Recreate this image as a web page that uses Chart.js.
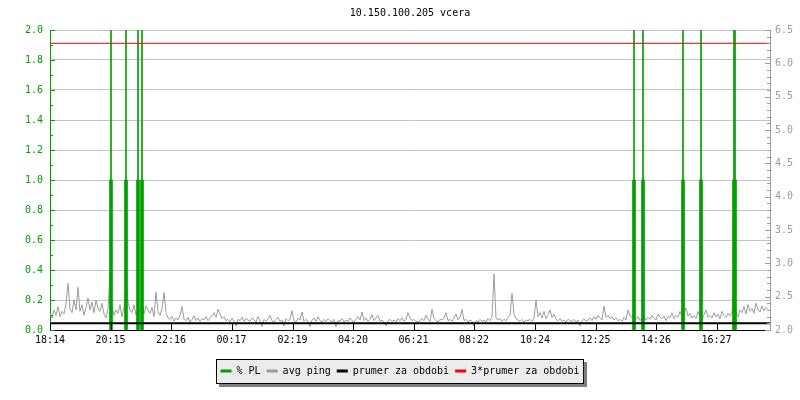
<!DOCTYPE html>
<html>
<head>
<meta charset="utf-8">
<title>10.150.100.205 vcera</title>
<script src="https://cdn.jsdelivr.net/npm/chart.js@4.4.1/dist/chart.umd.min.js"></script>
<style>
  html, body { margin: 0; padding: 0; background: #fff; }
  #graf { display: block; }
</style>
</head>
<body>
<canvas id="graf" width="800" height="400"></canvas>
<script>
// === DATA ==================================================================
// minuty od 18:14 (den = 1440 min)
const tickMinuty  = [0, 121, 242, 363, 485, 606, 727, 848, 970, 1091, 1212, 1333];
const tickPopisky = ['18:14', '20:15', '22:16', '00:17', '02:19', '04:20',
                     '06:21', '08:22', '10:24', '12:25', '14:26', '16:27'];

const krokPingu = 4;   // minut mezi vzorky
const avgPing = [
  2.25, 2.18, 2.30, 2.22, 2.35, 2.20, 2.28, 2.24, 2.40, 2.70, 2.32, 2.26, 2.45, 2.30, 2.64, 2.28, 2.38, 2.22, 2.34, 2.48,
  2.30, 2.42, 2.26, 2.45, 2.33, 2.28, 2.40, 2.24, 2.18, 2.32, 2.84, 2.36, 2.22, 2.30, 2.25, 2.38, 2.20, 2.34, 2.75, 2.42,
  2.30, 2.26, 2.38, 2.22, 2.33, 2.28, 2.42, 2.24, 2.36, 2.30, 2.25, 2.34, 2.20, 2.57, 2.28, 2.22, 2.32, 2.56, 2.26, 2.18,
  2.16, 2.20, 2.13, 2.18, 2.15, 2.22, 2.35, 2.17, 2.14, 2.19, 2.12, 2.16, 2.21, 2.14, 2.18, 2.13, 2.17, 2.15, 2.20, 2.14,
  2.18, 2.22, 2.26, 2.19, 2.31, 2.24, 2.17, 2.20, 2.14, 2.16, 2.12, 2.18, 2.13, 2.06, 2.16, 2.14, 2.19, 2.13, 2.17, 2.15,
  2.13, 2.18, 2.15, 2.12, 2.20, 2.14, 2.05, 2.16, 2.13, 2.17, 2.22, 2.14, 2.12, 2.16, 2.19, 2.13, 2.15, 2.06, 2.17, 2.14,
  2.16, 2.29, 2.14, 2.12, 2.18, 2.15, 2.27, 2.13, 2.16, 2.12, 2.05, 2.15, 2.18, 2.13, 2.20, 2.14, 2.12, 2.16, 2.13, 2.17,
  2.14, 2.12, 2.16, 2.05, 2.14, 2.13, 2.17, 2.12, 2.15, 2.13, 2.18, 2.14, 2.12, 2.16, 2.20, 2.15, 2.27, 2.14, 2.18, 2.13,
  2.16, 2.23, 2.14, 2.18, 2.22, 2.13, 2.15, 2.12, 2.06, 2.14, 2.16, 2.13, 2.15, 2.12, 2.17, 2.14, 2.18, 2.13, 2.16, 2.26,
  2.18, 2.14, 2.16, 2.13, 2.12, 2.15, 2.17, 2.14, 2.22, 2.16, 2.13, 2.31, 2.17, 2.14, 2.12, 2.16, 2.15, 2.18, 2.26, 2.14,
  2.16, 2.13, 2.18, 2.24, 2.15, 2.19, 2.31, 2.14, 2.16, 2.12, 2.15, 2.13, 2.06, 2.14, 2.12, 2.16, 2.13, 2.15, 2.12, 2.17,
  2.14, 2.20, 2.84, 2.18, 2.15, 2.17, 2.13, 2.16, 2.14, 2.19, 2.22, 2.55, 2.24, 2.17, 2.15, 2.13, 2.16, 2.12, 2.15, 2.14,
  2.16, 2.13, 2.18, 2.45, 2.20, 2.26, 2.18, 2.28, 2.17, 2.22, 2.30, 2.19, 2.24, 2.16, 2.14, 2.17, 2.13, 2.15, 2.12, 2.16,
  2.14, 2.13, 2.16, 2.12, 2.15, 2.06, 2.14, 2.17, 2.13, 2.15, 2.18, 2.14, 2.20, 2.16, 2.22, 2.18, 2.15, 2.36, 2.19, 2.22,
  2.17, 2.20, 2.15, 2.18, 2.14, 2.16, 2.13, 2.19, 2.15, 2.30, 2.22, 2.18, 2.24, 2.16, 2.20, 2.14, 2.18, 2.21, 2.15, 2.19,
  2.16, 2.22, 2.18, 2.15, 2.24, 2.19, 2.17, 2.21, 2.14, 2.20, 2.18, 2.26, 2.17, 2.22, 2.19, 2.28, 2.20, 2.24, 2.33, 2.21,
  2.25, 2.18, 2.22, 2.17, 2.28, 2.20, 2.16, 2.23, 2.30, 2.19, 2.22, 2.18, 2.26, 2.20, 2.24, 2.17, 2.28, 2.22, 2.19, 2.25,
  2.21, 2.27, 2.69, 2.24, 2.20, 2.30, 2.26, 2.35, 2.24, 2.38, 2.28, 2.32, 2.25, 2.40, 2.30, 2.27, 2.36, 2.29, 2.34, 2.31
];

// ztraty paketu (% PL) - jen nenulove vzorky
const plCasy    = [122, 152, 176, 184, 1168, 1186, 1266, 1302, 1368, 1370];
const plHodnoty = [1.0, 1.0, 1.0, 1.0, 1.0, 1.0, 1.0, 1.0, 1.0, 1.0];

const prumer = 2.1;   // prumer za obdobi

// === BARVY ================================================================
const ZELENA = '#00a000';
const SEDA   = '#9c9c9c';
const MRIZKA = '#c4c4c4';

Chart.defaults.font.family = "'DejaVu Sans Mono', 'Liberation Mono', monospace";
Chart.defaults.font.size = 10;
Chart.defaults.color = '#000';

// === PLUGINY ==============================================================
// ramecek legendy se stinem
const ramecekLegendy = {
  id: 'ramecekLegendy',
  beforeDraw(chart) {
    const boxes = chart.legend && chart.legend.legendHitBoxes;
    if (!boxes || !boxes.length) return;
    const ctx = chart.ctx;
    const l = Math.round(Math.min(...boxes.map(b => b.left)) - 5);
    const r = Math.round(Math.max(...boxes.map(b => b.left + b.width)) + 4);
    const t = Math.round(Math.min(...boxes.map(b => b.top)) - 7);
    const b = Math.round(Math.max(...boxes.map(b => b.top + b.height)) + 7);
    ctx.save();
    ctx.fillStyle = '#808080';
    ctx.fillRect(l + 3, t + 3, r - l + 1, b - t + 1);
    ctx.fillStyle = '#ececec';
    ctx.fillRect(l, t, r - l, b - t);
    ctx.strokeStyle = '#000';
    ctx.lineWidth = 1;
    ctx.strokeRect(l + 0.5, t + 0.5, r - l, b - t);
    ctx.restore();
  }
};

// znacky os smerem dovnitr grafu
const vnitrniZnacky = {
  id: 'vnitrniZnacky',
  afterDatasetsDraw(chart) {
    const { ctx, chartArea: a, scales: { x, yL, yR } } = chart;
    ctx.save();
    ctx.lineWidth = 1;

    ctx.strokeStyle = '#000';
    ctx.beginPath();
    tickMinuty.forEach(m => {
      const px = Math.round(x.getPixelForValue(m)) + 0.5;
      ctx.moveTo(px, a.bottom);
      ctx.lineTo(px, a.bottom - 6);
    });
    ctx.stroke();

    ctx.strokeStyle = ZELENA;
    ctx.beginPath();
    for (let i = 0; i <= 20; i++) {
      const py = Math.round(yL.getPixelForValue(i / 10)) + 0.5;
      ctx.moveTo(a.left, py);
      ctx.lineTo(a.left + (i % 2 === 0 ? 5 : 3), py);
    }
    ctx.stroke();

    ctx.strokeStyle = SEDA;
    ctx.beginPath();
    for (let i = 0; i <= 45; i++) {
      const py = Math.round(yR.getPixelForValue(2 + i / 10)) + 0.5;
      ctx.moveTo(a.right, py);
      ctx.lineTo(a.right - (i % 5 === 0 ? 5 : 3), py);
    }
    ctx.stroke();
    ctx.restore();
  }
};

// === GRAF =================================================================
const pingBody  = avgPing.map((v, i) => ({ x: i * krokPingu, y: v }));
const plBody    = plCasy.map((t, i) => ({ x: t, y: plHodnoty[i] }));
const plTicky   = plCasy.filter((t, i) => plHodnoty[i] > 0).map(t => ({ x: t, y: 2.0 }));
const prumerBody  = [{ x: 0, y: prumer }, { x: 1440, y: prumer }];
const prumer3Body = [{ x: 0, y: 3 * prumer }, { x: 1440, y: 3 * prumer }];

const polozkyLegendy = [
  { text: '% PL', barva: ZELENA, ds: 0 },
  { text: 'avg ping', barva: SEDA, ds: 2 },
  { text: 'prumer za obdobi', barva: '#000', ds: 3 },
  { text: '3*prumer za obdobi', barva: '#ff0000', ds: 4 }
];

new Chart(document.getElementById('graf'), {
  type: 'line',
  data: {
    datasets: [
      { type: 'bar', label: '% PL', data: plBody, yAxisID: 'yL', backgroundColor: ZELENA,
        barThickness: 3, grouped: false, borderWidth: 0, order: 3 },
      { type: 'bar', label: 'PL tick', data: plTicky, yAxisID: 'yL', backgroundColor: ZELENA,
        barThickness: 1, grouped: false, borderWidth: 0, order: 3 },
      { label: 'avg ping', data: pingBody, yAxisID: 'yR', borderColor: SEDA, borderWidth: 1,
        pointRadius: 0, tension: 0, order: 4 },
      { label: 'prumer za obdobi', data: prumerBody, yAxisID: 'yR', borderColor: '#000', borderWidth: 2,
        pointRadius: 0, order: 2 },
      { label: '3*prumer za obdobi', data: prumer3Body, yAxisID: 'yR', borderColor: '#ff0000', borderWidth: 1,
        pointRadius: 0, order: 1 }
    ]
  },
  options: {
    responsive: false,
    devicePixelRatio: 1,
    animation: false,
    layout: { padding: { top: 0, right: 0, bottom: 14, left: 0 } },
    plugins: {
      title: {
        display: true, text: '10.150.100.205 vcera', fullSize: false, color: '#000',
        font: { size: 10, weight: 'normal' }, padding: { top: 7, bottom: 11 }
      },
      legend: {
        position: 'bottom',
        labels: {
          boxWidth: 11, boxHeight: 3, padding: 6, color: '#000',
          font: { size: 10 },
          generateLabels: () => polozkyLegendy.map(p => ({
            text: p.text, fillStyle: p.barva, strokeStyle: p.barva, lineWidth: 0,
            hidden: false, datasetIndex: p.ds, fontColor: '#000'
          }))
        }
      },
      tooltip: { enabled: false }
    },
    scales: {
      x: {
        type: 'linear', min: 0, max: 1440, offset: false,
        afterBuildTicks: s => { s.ticks = tickMinuty.map(v => ({ value: v })); },
        afterFit: s => { s.height = 30; },
        ticks: {
          autoSkip: false, maxRotation: 0, padding: 4, color: '#000',
          callback: (v, i) => tickPopisky[i]
        },
        grid: { display: false, drawTicks: false },
        border: { display: true, color: '#000', width: 1 }
      },
      yL: {
        position: 'left', min: 0, max: 2,
        afterFit: s => { s.width = 50; },
        ticks: { stepSize: 0.2, padding: 7, color: ZELENA, callback: v => Number(v).toFixed(1) },
        grid: {
          drawTicks: false,
          color: c => (c.tick && Math.abs(c.tick.value) < 1e-6) ? 'rgba(0,0,0,0)' : MRIZKA
        },
        border: { display: true, color: ZELENA, width: 1 }
      },
      yR: {
        position: 'right', min: 2, max: 6.5,
        afterFit: s => { s.width = 30; },
        ticks: { stepSize: 0.5, padding: 5, color: SEDA, callback: v => Number(v).toFixed(1) },
        grid: { drawOnChartArea: false, drawTicks: false },
        border: { display: true, color: SEDA, width: 1 }
      }
    }
  },
  plugins: [ramecekLegendy, vnitrniZnacky]
});
</script>
</body>
</html>
